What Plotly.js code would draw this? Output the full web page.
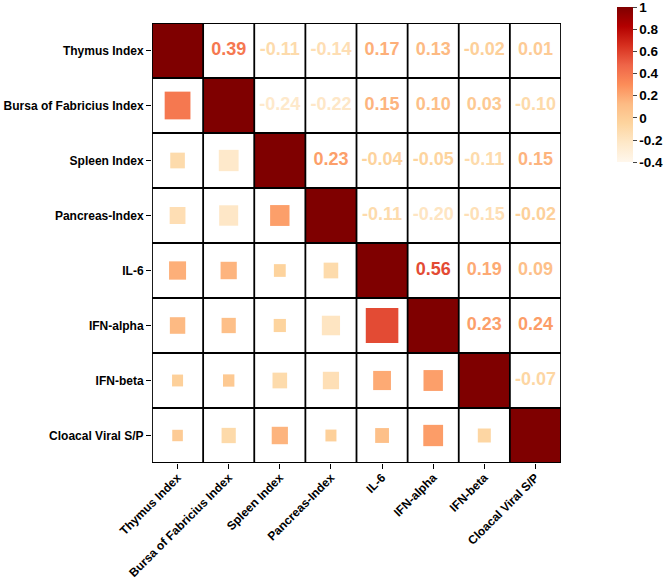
<!DOCTYPE html>
<html>
<head>
<meta charset="utf-8">
<script src="https://cdn.plot.ly/plotly-3.0.1.min.js"></script>
<style>html,body{margin:0;padding:0;background:#fff;}#chart{width:666px;height:580px;}</style>
</head>
<body>
<div id="chart"></div>
<script>
const labels = ["Thymus Index","Bursa of Fabricius Index","Spleen Index","Pancreas-Index","IL-6","IFN-alpha","IFN-beta","Cloacal Viral S/P"];
const corr = [
  [1.00, 0.39,-0.11,-0.14, 0.17, 0.13,-0.02, 0.01],
  [0.39, 1.00,-0.24,-0.22, 0.15, 0.10, 0.03,-0.10],
  [-0.11,-0.24, 1.00, 0.23,-0.04,-0.05,-0.11, 0.15],
  [-0.14,-0.22, 0.23, 1.00,-0.11,-0.20,-0.15,-0.02],
  [0.17, 0.15,-0.04,-0.11, 1.00, 0.56, 0.19, 0.09],
  [0.13, 0.10,-0.05,-0.20, 0.56, 1.00, 0.23, 0.24],
  [-0.02, 0.03,-0.11,-0.15, 0.19, 0.23, 1.00,-0.07],
  [0.01,-0.10, 0.15,-0.02, 0.09, 0.24,-0.07, 1.00]
];
const cbTickVals = [-0.4,-0.2,0,0.2,0.4,0.6,0.8,1];
const cbTickText = ["-0.4","-0.2","0","0.2","0.4","0.6","0.8","1"];
const zMin = -0.4, zMax = 1;
const palette = ["#fff7ec","#fee8c8","#fdd49e","#fdbb84","#fc8d59","#ef6548","#d7301f","#b30000","#7f0000"];
const colorscale = palette.map((c,i)=>[i/(palette.length-1), c]);

function hex2rgb(h){return [parseInt(h.slice(1,3),16),parseInt(h.slice(3,5),16),parseInt(h.slice(5,7),16)];}
function colorFor(v){
  let t = (v - zMin)/(zMax - zMin);
  t = Math.max(0, Math.min(1, t));
  const n = palette.length - 1;
  const k = Math.min(n-1, Math.floor(t*n));
  const f = t*n - k;
  const a = hex2rgb(palette[k]), b = hex2rgb(palette[k+1]);
  const c = a.map((x,i)=>Math.round(x + (b[i]-x)*f));
  return `rgb(${c[0]},${c[1]},${c[2]})`;
}

const n = labels.length;
const idx = labels.map((_,i)=>i);

// diagonal heatmap
const zDiag = corr.map((row,i)=>row.map((v,j)=> i===j ? v : null));
const heat = {
  type:'heatmap', x: idx, y: idx, z: zDiag,
  zmin: zMin, zmax: zMax, colorscale: colorscale, hoverinfo:'skip',
  colorbar: {
    x: 1.137, xanchor:'left', xpad:0, y: 1.036, yanchor:'top', ypad:0,
    len:155, lenmode:'pixels', thickness:16, outlinewidth:0,
    ticks:'outside', ticklen:4, tickwidth:1, tickcolor:'#444',
    tickvals: cbTickVals, ticktext: cbTickText, ticklabeloverflow:'allow',
    tickfont:{family:'Liberation Sans, Arial, sans-serif', size:13.5, color:'#000', weight:'bold'}
  }
};

// upper triangle text
const tx=[], ty=[], tt=[], tc=[];
for(let i=0;i<n;i++) for(let j=i+1;j<n;j++){
  tx.push(j); ty.push(i); tt.push(corr[i][j].toFixed(2)); tc.push(colorFor(corr[i][j]));
}
const txt = {
  type:'scatter', mode:'text', x:tx, y:ty, text:tt, hoverinfo:'skip', showlegend:false,
  textfont:{family:'Liberation Sans, Arial, sans-serif', size:18, color:tc, weight:'bold'}
};

const shapes = [];
// lower triangle squares
for(let i=0;i<n;i++) for(let j=0;j<i;j++){
  const v = corr[i][j];
  const h = (0.2 + 0.78*Math.abs(v))/2;
  shapes.push({type:'rect', xref:'x', yref:'y', x0:j-h, x1:j+h, y0:i-h, y1:i+h,
    fillcolor: colorFor(v), line:{width:0}, layer:'above'});
}
// grid lines
for(let k=0;k<=n;k++){
  shapes.push({type:'line', xref:'x', yref:'y', x0:k-0.5, x1:k-0.5, y0:-0.5, y1:n-0.5, line:{color:'#000', width:1.8}, layer:'above'});
  shapes.push({type:'line', xref:'x', yref:'y', x0:-0.5, x1:n-0.5, y0:k-0.5, y1:k-0.5, line:{color:'#000', width:1.8}, layer:'above'});
}

const tickFont = {family:'Liberation Sans, Arial, sans-serif', size:12, color:'#000', weight:'bold'};
const layout = {
  width:666, height:580,
  margin:{l:152, r:105, t:23, b:117, autoexpand:false},
  paper_bgcolor:'#fff', plot_bgcolor:'#fff',
  showlegend:false,
  xaxis:{range:[-0.5,n-0.5], tickvals:idx, ticktext:labels, tickangle:-45, ticks:'outside', ticklen:5, tickcolor:'#000',
    showgrid:false, zeroline:false, tickfont:tickFont, fixedrange:true, automargin:false, ticklabelstandoff:-3},
  yaxis:{range:[n-0.5,-0.5], tickvals:idx, ticktext:labels, ticks:'outside', ticklen:5, tickcolor:'#000',
    showgrid:false, zeroline:false, tickfont:tickFont, fixedrange:true, ticklabelstandoff:0, automargin:false},
  shapes: shapes
};

Plotly.newPlot('chart',[heat, txt], layout, {displayModeBar:false, staticPlot:true});
</script>
</body>
</html>
